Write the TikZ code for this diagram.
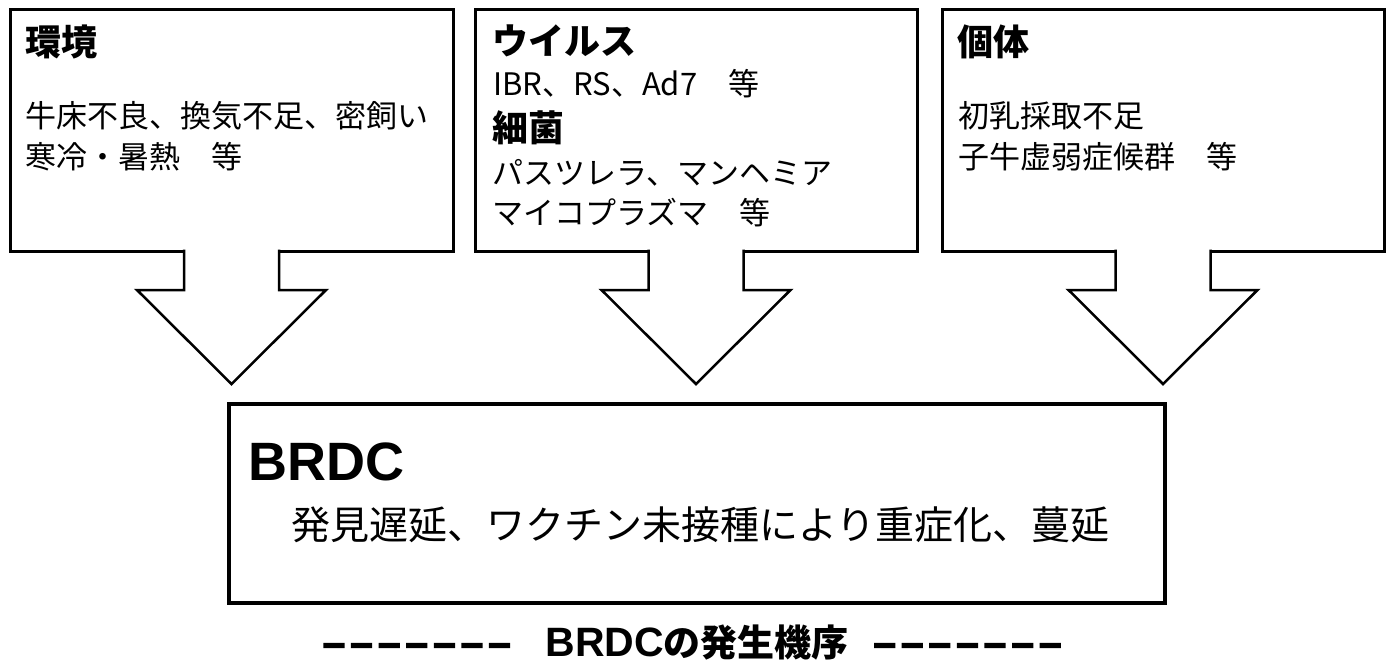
\documentclass[tikz,border=0pt]{standalone}
\usepackage{fontspec}
\setmainfont{Liberation Sans}
\newfontfamily\jp{Noto Sans CJK JP}
\newfontfamily\dashfont{Noto Sans CJK JP}[BoldFeatures={FakeBold=7}]
\newfontfamily\lsans{Liberation Sans}
\usetikzlibrary{calc}
\tikzset{
  box/.style={draw, line width=3pt, rectangle, inner sep=0pt, outer sep=0pt, anchor=north west},
  arr/.style={draw, line width=2.5pt, line join=miter},
  ttl/.style={anchor=west, inner sep=0pt, font=\jp\bfseries\fontsize{36}{36}\selectfont},
  txt/.style={anchor=west, inner sep=0pt, font=\jp\fontsize{31}{31}\selectfont},
}
\begin{document}
\begin{tikzpicture}[x=1pt,y=-1pt]
\useasboundingbox (0,0) rectangle (1391,665);
\fill[white] (0,0) rectangle (1391,665);
% boxes
\node[box, minimum width=443pt, minimum height=242pt] (env) at (10,9) {};
\node[box, minimum width=442pt, minimum height=242pt] (vir) at (475,9) {};
\node[box, minimum width=442pt, minimum height=242pt] (ind) at (942,9) {};
\node[box, line width=4pt, minimum width=936pt, minimum height=199pt] (brdc) at (229,404) {};
% block arrows
\foreach \b in {env,vir,ind}{
  \fill[white] ($(\b.south)+(-47,-3)$) rectangle ($(\b.south)+(47,3)$);
  \draw[arr] ($(\b.south)+(-47.5,-1.5)$) -- ++(0,40.5) -- ++(-47,0)
     -- ($(\b.south)+(0,133)$) -- ($(\b.south)+(94.5,39)$) -- ++(-47,0) -- ++(0,-40.5);
}
% texts
\node[ttl] (t1) at (25,42) {環境};
\node[txt] (a1) at (25,116) {牛床不良、換気不足、密飼い};
\node[txt] (a2) at (25,157) {寒冷・暑熱　等};
\node[ttl] (t2) at (492,41) {ウイルス};
\node[txt] (b1) at (493,84) {IBR、RS、Ad7　等};
\node[ttl] (t3) at (492,128) {細菌};
\node[txt] (b2) at (492,173) {パスツレラ、マンヘミア};
\node[txt] (b3) at (492,213) {マイコプラズマ　等};
\node[ttl] (t4) at (957,42) {個体};
\node[txt] (c1) at (958,116) {初乳採取不足};
\node[txt] (c2) at (958,157) {子牛虚弱症候群　等};
\node[anchor=base west, inner sep=0pt, font=\lsans\bfseries\fontsize{54}{54}\selectfont] (bt) at (248,480) {BRDC};
\node[txt, font=\jp\fontsize{39}{39}\selectfont] (bd) at (291,525) {発見遅延、ワクチン未接種により重症化、蔓延};
\node[anchor=base west, inner sep=0pt] (cap) at (320,656)
  {{\dashfont\bfseries\fontsize{27.6}{28}\selectfont －－－－－－－}\hspace{32pt}{\lsans\bfseries\fontsize{41}{41}\selectfont BRDC}{\jp\bfseries\fontsize{37}{37}\selectfont の発生機序}\hspace{22pt}{\dashfont\bfseries\fontsize{27.6}{28}\selectfont －－－－－－－}};
\end{tikzpicture}
\end{document}
